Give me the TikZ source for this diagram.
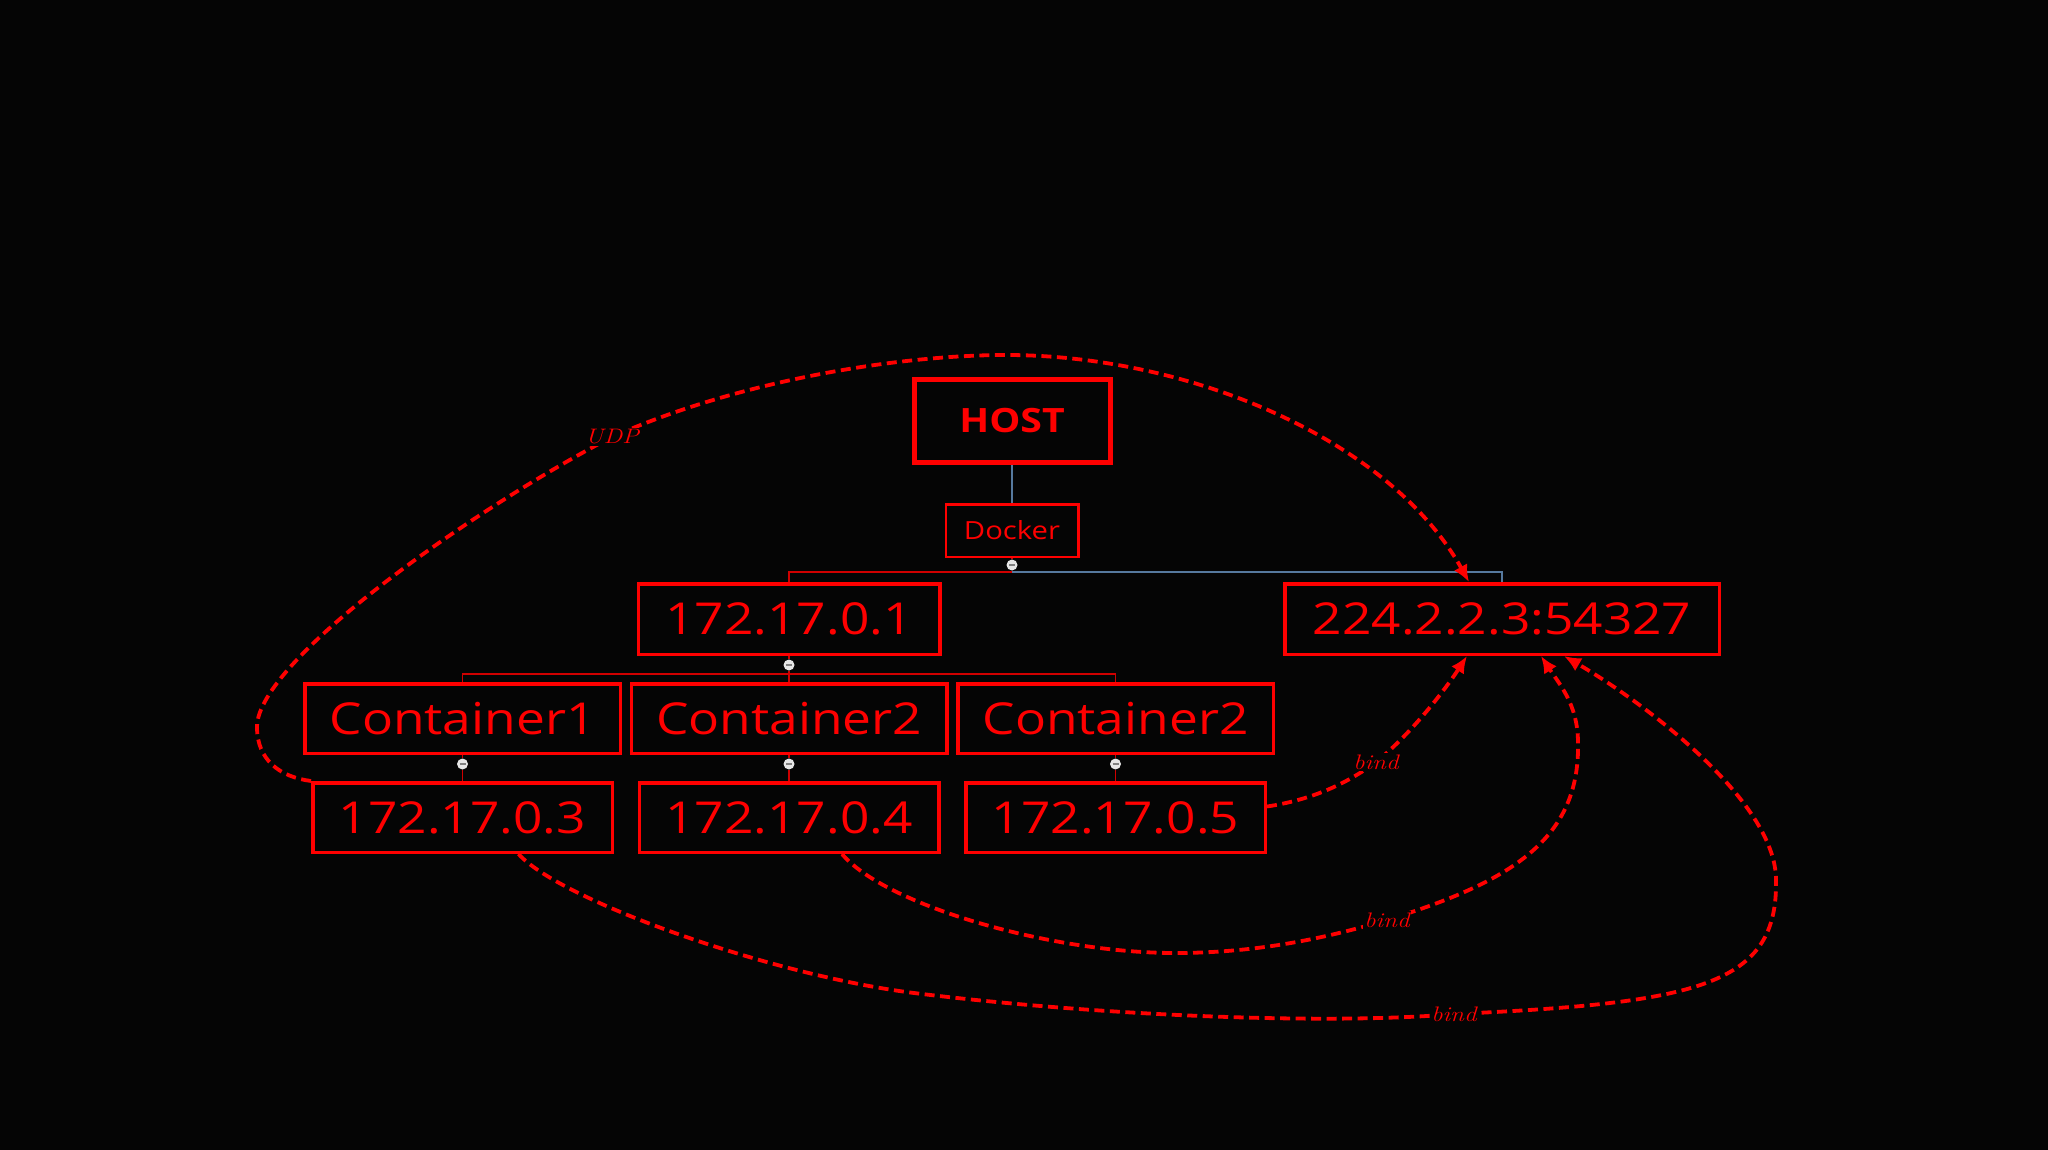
\documentclass[tikz,border=0pt]{standalone}
\usepackage{fontspec}
\usepackage{graphicx}
\newfontfamily\wf[FakeStretch=1.17]{Open Sans}
\usetikzlibrary{arrows.meta,calc}
\definecolor{bg}{HTML}{050505}
\definecolor{bred}{HTML}{FF0000}
\definecolor{lred}{HTML}{D00000}
\definecolor{lblue}{HTML}{56799E}
\definecolor{dotc}{HTML}{E6E6E6}
\begin{document}
\begin{tikzpicture}[x=1pt,y=-1pt,
  box/.style={draw=bred, line width=3.5pt, text=bred, inner sep=0pt,
    font=\wf\fontsize{44}{44}\selectfont},
  hostbox/.style={box, line width=5pt, minimum width=196pt, minimum height=83pt,
    font=\wf\bfseries\fontsize{33.5}{33.5}\selectfont},
  dockbox/.style={box, line width=2.5pt, minimum width=132.5pt, minimum height=52.5pt,
    font=\wf\fontsize{25}{25}\selectfont},
  ipbox/.style={box, minimum width=301.5pt, minimum height=70.5pt},
  cbox/.style={box, minimum width=315.5pt, minimum height=69.5pt},
  lbox/.style={box, minimum width=299.5pt, minimum height=69.5pt},
  tred/.style={draw=lred, line width=1.3pt},
  tblue/.style={draw=lblue, line width=1.3pt},
  dotn/.style={circle, fill=dotc, minimum size=11pt, inner sep=0pt,
    path picture={\draw[gray, line width=1.2pt]
      ([xshift=-3pt]path picture bounding box.center) --
      ([xshift=3pt]path picture bounding box.center);}},
  dcurve/.style={draw=bred, line width=3.8pt, dash pattern=on 10pt off 5.5pt,
    -{Latex[length=17pt,width=15pt]}},
  lbl/.style={fill=bg, inner sep=1.5pt, text=bred,
    font=\itshape\fontsize{21}{21}\selectfont}
]
\fill[bg] (0,0) rectangle (2048,1150);
\useasboundingbox (0,0) rectangle (2048,1150);

% boxes
\node[hostbox] (host) at (1012,421) {HOST};
\node[dockbox] (docker) at (1012,530.5) {Docker};
\node[ipbox] (ipA) at (789,619) {172.17.0.1};
\node[ipbox, minimum width=434.5pt] (mc) at (1502,619) {224.2.2.3:54327};
\node[cbox] (c1) at (462.5,718.5) {Container1};
\node[cbox] (c2) at (789,718.5) {Container2};
\node[cbox] (c3) at (1115.5,718.5) {Container2};
\node[lbox] (ip3) at (462.5,817.5) {172.17.0.3};
\node[lbox] (ip4) at (789,817.5) {172.17.0.4};
\node[lbox] (ip5) at (1115.5,817.5) {172.17.0.5};

% collapse dots
\node[dotn] (dotD) at (1012,565) {};
\node[dotn] (dotA) at (789,665) {};
\node[dotn] (dot1) at (462.5,764) {};
\node[dotn] (dot2) at (789,764) {};
\node[dotn] (dot3) at (1115.5,764) {};

\coordinate (busD) at (1012,572);
\coordinate (busA) at (789,674);

% tree lines
\draw[tblue] (host) -- (docker);
\draw[tred] (docker) -- (dotD);
\draw[tred] (dotD) -- (busD) -| (ipA);
\draw[tblue] (busD) -| (mc);
\draw[tred] (ipA) -- (dotA);
\draw[tred] (dotA) -- (busA) -| (c1);
\draw[tred] (busA) -| (c3);
\draw[tred] (busA) -- (c2);
\draw[tred] (c1) -- (dot1) -- (ip3);
\draw[tred] (c2) -- (dot2) -- (ip4);
\draw[tred] (c3) -- (dot3) -- (ip5);

% arrow ends on the multicast box
\coordinate (mcT) at ($(mc.north)+(-33,0)$);
\coordinate (mcB1) at ($(mc.south)+(-35,0)$);
\coordinate (mcB2) at ($(mc.south)+(39,0)$);
\coordinate (mcB3) at ($(mc.south)+(62,0)$);
\coordinate (s5) at ($(ip5.east)+(0,-11)$);
\coordinate (s4) at ($(ip4.south)+(53,0)$);
\coordinate (s3) at ($(ip3.south)+(56,0)$);

% UDP curve
\draw[dcurve] (ip3.north west) .. controls (280,777) and (257,760) .. (257,727)
  .. controls (257,660) and (480,505) .. (612,437) node[lbl]{\scalebox{1.2}[1]{UDP}}
  .. controls (740,380) and (900,355) .. (1006,355)
  .. controls (1190,355) and (1390,440) .. (mcT);

% bind from 172.17.0.5
\draw[dcurve] (s5) .. controls (1310,800) and (1345,785) .. (1376,762)
  node[lbl]{\scalebox{1.2}[1]{bind}}
  .. controls (1410,735) and (1445,690) .. (mcB1);

% bind from 172.17.0.4
\draw[dcurve] (s4) .. controls (885,905) and (1050,953) .. (1175,953)
  .. controls (1260,953) and (1330,937) .. (1387,920)
  node[lbl]{\scalebox{1.2}[1]{bind}}
  .. controls (1510,882) and (1580,840) .. (1578,743)
  .. controls (1578,705) and (1560,685) .. (mcB2);

% bind from 172.17.0.3
\draw[dcurve] (s3) .. controls (560,900) and (770,975) .. (914,993)
  .. controls (1100,1016) and (1330,1025) .. (1454,1014)
  node[lbl]{\scalebox{1.2}[1]{bind}}
  .. controls (1700,1003) and (1778,985) .. (1776,880)
  .. controls (1776,800) and (1640,700) .. (mcB3);
\end{tikzpicture}
\end{document}
